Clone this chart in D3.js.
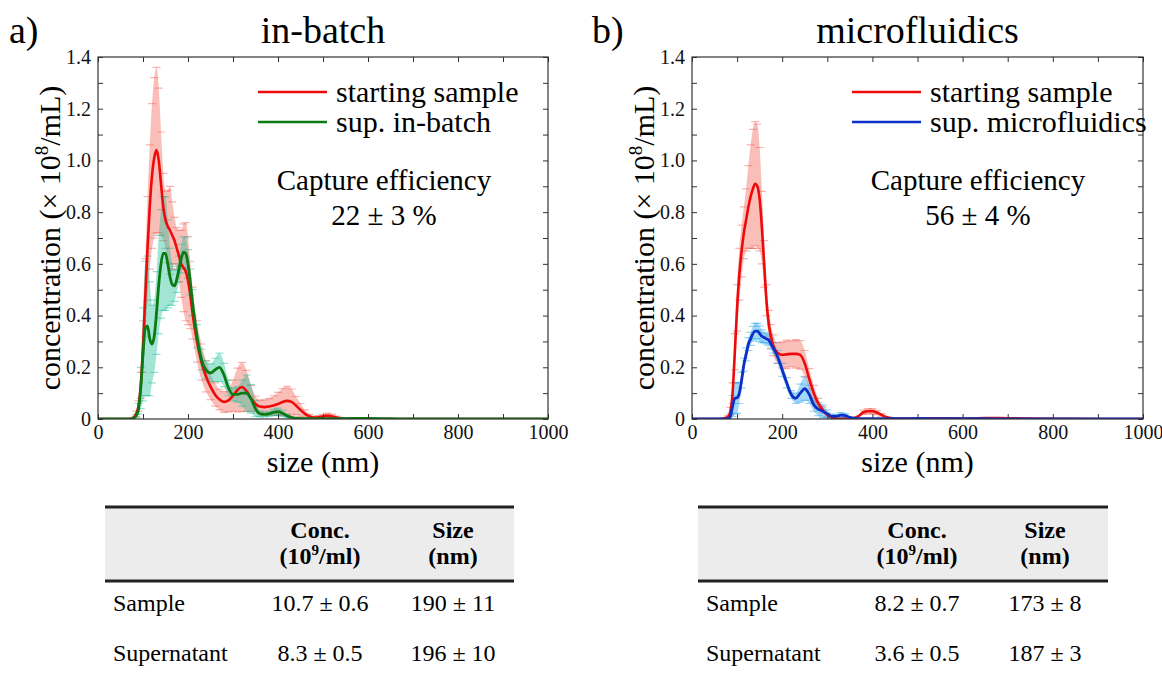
<!DOCTYPE html>
<html>
<meta charset="utf-8">
<head>
<script src="https://d3js.org/d3.v7.min.js"></script>
<style>
  body { margin: 0; background: #fff; }
</style>
</head>
<body>
<script>
// ---- data ----
// panel a) in-batch
var sizesA = [0, 60, 75, 80, 85, 90, 95, 100, 105, 110,
  115, 120, 125, 130, 135, 140, 145, 150, 155, 160,
  165, 170, 175, 180, 185, 190, 195, 200, 205, 210,
  220, 230, 240, 250, 260, 270, 280, 290, 300, 310,
  320, 330, 340, 350, 360, 370, 380, 390, 400, 410,
  420, 430, 440, 450, 460, 470, 480, 490, 500, 510,
  520, 530, 540, 560, 580, 600, 650, 700, 800, 1000];
var startA = [0, 0, 0.002, 0.008, 0.02, 0.05, 0.13, 0.28, 0.47, 0.66,
  0.82, 0.94, 1.01, 1.04, 1.0, 0.91, 0.82, 0.77, 0.745, 0.73,
  0.71, 0.69, 0.66, 0.63, 0.6, 0.585, 0.57, 0.535, 0.48, 0.41,
  0.3, 0.22, 0.165, 0.125, 0.095, 0.075, 0.066, 0.072, 0.09, 0.112,
  0.124, 0.108, 0.08, 0.058, 0.048, 0.046, 0.048, 0.052, 0.058, 0.066,
  0.07, 0.066, 0.052, 0.035, 0.02, 0.01, 0.006, 0.007, 0.01, 0.012,
  0.01, 0.006, 0.003, 0.001, 0.001, 0, 0, 0, 0, 0];
var startAErr = [0, 0, 0.001, 0.004, 0.01, 0.02, 0.05, 0.1, 0.15, 0.2,
  0.24, 0.28, 0.31, 0.32, 0.28, 0.2, 0.13, 0.11, 0.14, 0.17,
  0.13, 0.09, 0.08, 0.1, 0.13, 0.17, 0.19, 0.17, 0.13, 0.1,
  0.08, 0.07, 0.06, 0.05, 0.045, 0.04, 0.04, 0.045, 0.06, 0.085,
  0.095, 0.08, 0.05, 0.03, 0.025, 0.028, 0.032, 0.038, 0.045, 0.052,
  0.056, 0.05, 0.035, 0.025, 0.015, 0.008, 0.005, 0.006, 0.008, 0.01,
  0.008, 0.005, 0.003, 0.001, 0.001, 0, 0, 0, 0, 0];
var supA = [0, 0, 0, 0.004, 0.012, 0.04, 0.12, 0.25, 0.35, 0.36,
  0.31, 0.29, 0.32, 0.41, 0.52, 0.6, 0.64, 0.64, 0.6, 0.55,
  0.52, 0.515, 0.54, 0.58, 0.62, 0.645, 0.64, 0.6, 0.53, 0.45,
  0.32, 0.23, 0.19, 0.178, 0.19, 0.2, 0.17, 0.12, 0.095, 0.095,
  0.1, 0.1, 0.078, 0.04, 0.02, 0.018, 0.02, 0.026, 0.028, 0.022,
  0.012, 0.006, 0.003, 0.002, 0.001, 0.001, 0.001, 0.001, 0.001, 0.001,
  0.001, 0.001, 0.001, 0.002, 0.002, 0.002, 0.001, 0, 0, 0];
var supAErr = [0, 0, 0, 0.002, 0.006, 0.02, 0.08, 0.18, 0.26, 0.27,
  0.22, 0.15, 0.14, 0.16, 0.19, 0.21, 0.22, 0.22, 0.17, 0.11,
  0.08, 0.06, 0.05, 0.05, 0.055, 0.06, 0.06, 0.055, 0.05, 0.05,
  0.045, 0.04, 0.035, 0.035, 0.045, 0.055, 0.045, 0.03, 0.025, 0.03,
  0.05, 0.07, 0.055, 0.03, 0.012, 0.01, 0.01, 0.012, 0.014, 0.012,
  0.008, 0.004, 0.002, 0.001, 0.001, 0.001, 0.001, 0.001, 0.001, 0.001,
  0.001, 0.001, 0.001, 0.001, 0.001, 0.001, 0.001, 0, 0, 0];

// panel b) microfluidics
var sizesB = [0, 60, 70, 80, 85, 90, 95, 100, 105, 110,
  115, 120, 125, 130, 135, 140, 145, 150, 155, 160,
  165, 170, 175, 180, 190, 200, 210, 220, 230, 240,
  250, 260, 270, 280, 290, 300, 310, 320, 330, 340,
  350, 360, 370, 380, 390, 400, 410, 420, 430, 440,
  460, 500, 550, 600, 650, 700, 800, 900, 1000];
var startB = [0, 0, 0.002, 0.008, 0.03, 0.1, 0.26, 0.43, 0.56, 0.65,
  0.72, 0.77, 0.82, 0.86, 0.89, 0.91, 0.9, 0.85, 0.74, 0.6,
  0.46, 0.37, 0.32, 0.285, 0.255, 0.248, 0.25, 0.252, 0.252, 0.248,
  0.215, 0.155, 0.1, 0.06, 0.035, 0.016, 0.006, 0.002, 0.001, 0.001,
  0.002, 0.004, 0.012, 0.026, 0.03, 0.03, 0.025, 0.016, 0.008, 0.004,
  0.002, 0.002, 0.003, 0.002, 0.004, 0.003, 0.001, 0, 0];
var startBErr = [0, 0, 0.001, 0.005, 0.015, 0.04, 0.07, 0.09, 0.1, 0.1,
  0.1, 0.12, 0.16, 0.2, 0.23, 0.24, 0.24, 0.2, 0.14, 0.09,
  0.06, 0.05, 0.045, 0.04, 0.04, 0.05, 0.055, 0.05, 0.055, 0.055,
  0.05, 0.04, 0.03, 0.02, 0.012, 0.006, 0.003, 0.001, 0.001, 0.001,
  0.001, 0.002, 0.004, 0.008, 0.01, 0.01, 0.008, 0.005, 0.003, 0.001,
  0.001, 0.001, 0.001, 0.001, 0.001, 0.001, 0, 0, 0];
var supB = [0, 0, 0, 0.001, 0.01, 0.05, 0.08, 0.082, 0.1, 0.15,
  0.21, 0.25, 0.29, 0.31, 0.33, 0.34, 0.34, 0.33, 0.32, 0.315,
  0.31, 0.305, 0.29, 0.275, 0.24, 0.19, 0.14, 0.095, 0.08, 0.1,
  0.117, 0.095, 0.055, 0.038, 0.03, 0.02, 0.01, 0.01, 0.015, 0.013,
  0.006, 0.003, 0.001, 0.001, 0.001, 0.001, 0.001, 0.001, 0.001, 0.001,
  0.001, 0.002, 0.001, 0.001, 0.001, 0, 0, 0, 0];
var supBErr = [0, 0, 0, 0.001, 0.01, 0.04, 0.06, 0.06, 0.04, 0.03,
  0.025, 0.025, 0.025, 0.025, 0.028, 0.03, 0.03, 0.03, 0.025, 0.02,
  0.02, 0.02, 0.02, 0.02, 0.025, 0.025, 0.02, 0.015, 0.02, 0.035,
  0.045, 0.035, 0.025, 0.025, 0.025, 0.015, 0.008, 0.008, 0.01, 0.008,
  0.004, 0.002, 0.001, 0.001, 0.001, 0.001, 0.001, 0.001, 0.001, 0.001,
  0.001, 0.001, 0.001, 0.001, 0.001, 0, 0, 0, 0];

// tables
var rowLabels = ["Sample", "Supernatant"];
var concA = ["10.7 \u00b1 0.6", "8.3 \u00b1 0.5"];
var sizeValA = ["190 \u00b1 11", "196 \u00b1 10"];
var concB = ["8.2 \u00b1 0.7", "3.6 \u00b1 0.5"];
var sizeValB = ["173 \u00b1 8", "187 \u00b1 3"];

var xTicks = [0, 200, 400, 600, 800, 1000];
var yTicks = [0, 0.2, 0.4, 0.6, 0.8, 1.0, 1.2, 1.4];

// ---- drawing ----
var FONT = "'Liberation Serif', serif";
var width = 1162, height = 684;
var svg = d3.select("body").append("svg")
  .attr("width", width).attr("height", height)
  .style("display", "block");
svg.append("rect").attr("width", width).attr("height", height).attr("fill", "#fff");

function rows(sizes, vals, errs) {
  return sizes.map(function (s, i) { return { s: s, v: vals[i], e: errs[i] }; });
}

var panels = [
  { id: "a", letter: "a)", title: "in-batch", left: 98, right: 548, top: 57, bottom: 419, letterX: 9,
    red: rows(sizesA, startA, startAErr), other: rows(sizesA, supA, supAErr),
    otherName: "sup. in-batch", otherLine: "#0b7a12", otherBand: "#19bf96",
    capture: "22 \u00b1 3 %", conc: concA, sizeVals: sizeValA,
    tblLeft: 105, tblRight: 514, col1: 320, col2: 453 },
  { id: "b", letter: "b)", title: "microfluidics", left: 692, right: 1143, top: 57, bottom: 419, letterX: 592,
    red: rows(sizesB, startB, startBErr), other: rows(sizesB, supB, supBErr),
    otherName: "sup. microfluidics", otherLine: "#0c2fc8", otherBand: "#1aa0ea",
    capture: "56 \u00b1 4 %", conc: concB, sizeVals: sizeValB,
    tblLeft: 698, tblRight: 1108, col1: 917, col2: 1045 }
];

panels.forEach(function (p) {
  var x = d3.scaleLinear().domain([0, 1000]).range([p.left, p.right]);
  var y = d3.scaleLinear().domain([0, 1.4]).range([p.bottom, p.top]);
  var g = svg.append("g");

  // letter + title
  g.append("text").attr("x", p.letterX).attr("y", 43)
    .attr("font-size", 38).text(p.letter);
  g.append("text").attr("x", (p.left + p.right) / 2).attr("y", 43)
    .attr("text-anchor", "middle").attr("font-size", 38).text(p.title);

  g.append("clipPath").attr("id", "clip" + p.id)
    .append("rect").attr("x", p.left).attr("y", p.top)
    .attr("width", p.right - p.left).attr("height", p.bottom - p.top);

  var plot = g.append("g").attr("clip-path", "url(#clip" + p.id + ")");

  var band = d3.area()
    .x(function (d) { return x(d.s); })
    .y0(function (d) { return y(Math.max(0, d.v - d.e)); })
    .y1(function (d) { return y(d.v + d.e); })
    .curve(d3.curveMonotoneX);
  var line = d3.line()
    .x(function (d) { return x(d.s); })
    .y(function (d) { return y(d.v); })
    .curve(d3.curveMonotoneX);

  // error bands with faint caps
  [[p.red, "#f25c50"], [p.other, p.otherBand]].forEach(function (s) {
    plot.append("path").datum(s[0]).attr("d", band)
      .attr("fill", s[1]).attr("fill-opacity", 0.4);
    plot.selectAll(null).data(s[0].filter(function (d) { return d.e > 0.004; }))
      .join("path")
      .attr("d", function (d) {
        var x0 = x(d.s), y0 = y(Math.max(0, d.v - d.e)), y1 = y(d.v + d.e);
        return "M" + (x0 - 4) + "," + y0 + "h8M" + (x0 - 4) + "," + y1 + "h8";
      })
      .attr("stroke", s[1]).attr("stroke-opacity", 0.45).attr("stroke-width", 1.2).attr("fill", "none");
  });

  plot.append("path").datum(p.red).attr("d", line)
    .attr("fill", "none").attr("stroke", "#ee0a0a").attr("stroke-width", 2.6);
  plot.append("path").datum(p.other).attr("d", line)
    .attr("fill", "none").attr("stroke", p.otherLine).attr("stroke-width", 2.8);

  // axes (inward ticks on all sides)
  var fmt = function (d) { return d === 0 ? "0" : d3.format(".1f")(d); };
  var minorX = d3.range(0, 1001, 100), minorY = d3.range(0, 1.41, 0.1);
  function styleAxis(sel) {
    sel.attr("font-family", null).attr("font-size", null);
    sel.select(".domain").remove();
    sel.selectAll("line").attr("stroke", "#333");
    sel.selectAll("text").attr("fill", "#111").attr("font-size", 20);
  }
  g.append("g").attr("transform", "translate(0," + p.bottom + ")")
    .call(d3.axisBottom(x).tickValues(minorX).tickSize(-5).tickPadding(6)
      .tickFormat(function (d) { return xTicks.indexOf(d) >= 0 ? d : ""; }))
    .call(styleAxis);
  g.append("g").attr("transform", "translate(0," + p.top + ")")
    .call(d3.axisTop(x).tickValues(minorX).tickSize(-5).tickFormat(""))
    .call(styleAxis);
  g.append("g").attr("transform", "translate(" + p.left + ",0)")
    .call(d3.axisLeft(y).tickValues(minorY).tickSize(-5).tickPadding(7)
      .tickFormat(function (d) {
        var r = Math.round(d * 10) / 10;
        return yTicks.some(function (t) { return Math.abs(t - r) < 1e-9; }) ? fmt(r) : "";
      }))
    .call(styleAxis);
  g.append("g").attr("transform", "translate(" + p.right + ",0)")
    .call(d3.axisRight(y).tickValues(minorY).tickSize(-5).tickFormat(""))
    .call(styleAxis);
  g.append("rect").attr("x", p.left).attr("y", p.top)
    .attr("width", p.right - p.left).attr("height", p.bottom - p.top)
    .attr("fill", "none").attr("stroke", "#333").attr("stroke-width", 1.2);

  // axis titles
  g.append("text").attr("x", (p.left + p.right) / 2).attr("y", 472)
    .attr("text-anchor", "middle").attr("font-size", 30).text("size (nm)");
  var yt = g.append("text")
    .attr("transform", "translate(" + (p.left - 38) + "," + ((p.top + p.bottom) / 2) + ") rotate(-90)")
    .attr("text-anchor", "middle").attr("font-size", 30);
  yt.append("tspan").text("concentration (\u00d7 10");
  yt.append("tspan").attr("font-size", 19).attr("dy", -12).text("8");
  yt.append("tspan").attr("dy", 12).text("/mL)");

  // legend
  var lx = p.left + 160;
  [["starting sample", "#ee0a0a"], [p.otherName, p.otherLine]].forEach(function (l, i) {
    var ly = 92 + i * 30;
    g.append("line").attr("x1", lx).attr("x2", lx + 69).attr("y1", ly).attr("y2", ly)
      .attr("stroke", l[1]).attr("stroke-width", 2.6);
    g.append("text").attr("x", lx + 78).attr("y", ly + 10).attr("font-size", 30).text(l[0]);
  });

  // capture efficiency
  var cx = p.left + 286;
  g.append("text").attr("x", cx).attr("y", 190).attr("text-anchor", "middle")
    .attr("font-size", 29).text("Capture efficiency");
  g.append("text").attr("x", cx).attr("y", 225).attr("text-anchor", "middle")
    .attr("font-size", 29).text(p.capture);

  // table
  var t = svg.append("g");
  t.append("rect").attr("x", p.tblLeft).attr("y", 507).attr("width", p.tblRight - p.tblLeft)
    .attr("height", 74).attr("fill", "#ececec");
  t.append("line").attr("x1", p.tblLeft).attr("x2", p.tblRight).attr("y1", 507).attr("y2", 507)
    .attr("stroke", "#222").attr("stroke-width", 3);
  t.append("line").attr("x1", p.tblLeft).attr("x2", p.tblRight).attr("y1", 581).attr("y2", 581)
    .attr("stroke", "#222").attr("stroke-width", 3);
  t.append("text").attr("x", p.col1).attr("y", 538).attr("text-anchor", "middle")
    .attr("font-size", 24).attr("font-weight", "bold").text("Conc.");
  var h2 = t.append("text").attr("x", p.col1).attr("y", 564).attr("text-anchor", "middle")
    .attr("font-size", 24).attr("font-weight", "bold");
  h2.append("tspan").text("(10");
  h2.append("tspan").attr("font-size", 15).attr("dy", -9).text("9");
  h2.append("tspan").attr("dy", 9).text("/ml)");
  t.append("text").attr("x", p.col2).attr("y", 538).attr("text-anchor", "middle")
    .attr("font-size", 24).attr("font-weight", "bold").text("Size");
  t.append("text").attr("x", p.col2).attr("y", 564).attr("text-anchor", "middle")
    .attr("font-size", 24).attr("font-weight", "bold").text("(nm)");
  rowLabels.forEach(function (r, i) {
    var ry = 611 + i * 50;
    t.append("text").attr("x", p.tblLeft + 8).attr("y", ry).attr("font-size", 24).text(r);
    t.append("text").attr("x", p.col1).attr("y", ry).attr("text-anchor", "middle")
      .attr("font-size", 24).text(p.conc[i]);
    t.append("text").attr("x", p.col2).attr("y", ry).attr("text-anchor", "middle")
      .attr("font-size", 24).text(p.sizeVals[i]);
  });
});

// serif font on every text element
svg.selectAll("text").attr("font-family", FONT).style("font-family", FONT);
</script>
</body>
</html>
